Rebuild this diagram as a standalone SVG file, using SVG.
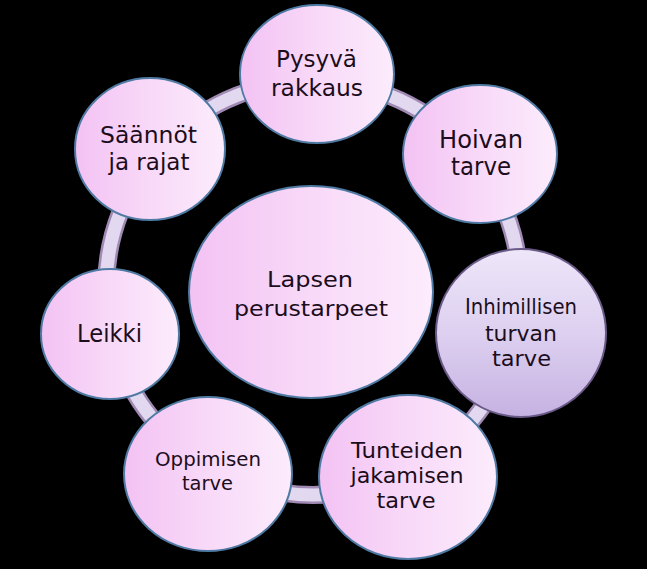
<svg xmlns="http://www.w3.org/2000/svg" width="647" height="569" viewBox="0 0 647 569">
<defs>
<linearGradient id="pink" x1="0" y1="0" x2="1" y2="0">
<stop offset="0" stop-color="#f3c2f3"/>
<stop offset="0.5" stop-color="#f8d9f8"/>
<stop offset="1" stop-color="#fcecfc"/>
</linearGradient>
<linearGradient id="lav" x1="0" y1="0" x2="0" y2="1">
<stop offset="0" stop-color="#eee6f9"/>
<stop offset="0.5" stop-color="#ddd0f0"/>
<stop offset="1" stop-color="#c6b2e2"/>
</linearGradient>
<style>
.n{fill:url(#pink);stroke:#4f7aa3;stroke-width:2}
.h{fill:url(#lav);stroke:#6a5a88;stroke-width:2}
text{font-family:"DejaVu Sans","Liberation Sans",sans-serif;fill:#1c0d1c;text-anchor:middle}
</style>
</defs>
<rect width="647" height="569" fill="#000"/>
<g id="connectors">
<circle cx="313" cy="288" r="207" fill="none" stroke="#a08ab4" stroke-width="18"/>
<circle cx="313" cy="288" r="207" fill="none" stroke="#e2d8f0" stroke-width="13"/>
</g>
<g id="center">
<ellipse class="n" cx="311" cy="292" rx="122" ry="106"/>
<text font-size="21"><tspan x="310" y="287" textLength="86" lengthAdjust="spacingAndGlyphs">Lapsen</tspan><tspan x="311" y="316" textLength="154" lengthAdjust="spacingAndGlyphs">perustarpeet</tspan></text>
</g>
<g id="pysyva">
<ellipse class="n" cx="317" cy="74" rx="77" ry="69"/>
<text font-size="23"><tspan x="316.5" y="67" textLength="81" lengthAdjust="spacingAndGlyphs">Pysyvä</tspan><tspan x="317" y="96" textLength="92" lengthAdjust="spacingAndGlyphs">rakkaus</tspan></text>
</g>
<g id="hoivan">
<ellipse class="n" cx="480" cy="154" rx="77" ry="69"/>
<text font-size="24"><tspan x="481" y="148" textLength="84" lengthAdjust="spacingAndGlyphs">Hoivan</tspan><tspan x="481" y="175" textLength="60" lengthAdjust="spacingAndGlyphs">tarve</tspan></text>
</g>
<g id="inhimillisen">
<ellipse class="h" cx="521" cy="333" rx="85" ry="84"/>
<text font-size="21.5"><tspan x="521" y="314" textLength="112" lengthAdjust="spacingAndGlyphs">Inhimillisen</tspan><tspan x="521" y="341" textLength="72" lengthAdjust="spacingAndGlyphs">turvan</tspan><tspan x="521.5" y="366" textLength="59" lengthAdjust="spacingAndGlyphs">tarve</tspan></text>
</g>
<g id="tunteiden">
<ellipse class="n" cx="408" cy="477" rx="89" ry="82"/>
<text font-size="22"><tspan x="407" y="458" textLength="112" lengthAdjust="spacingAndGlyphs">Tunteiden</tspan><tspan x="407" y="483" textLength="113" lengthAdjust="spacingAndGlyphs">jakamisen</tspan><tspan x="406" y="508" textLength="59" lengthAdjust="spacingAndGlyphs">tarve</tspan></text>
</g>
<g id="oppimisen">
<ellipse class="n" cx="208" cy="474" rx="84" ry="77"/>
<text font-size="19"><tspan x="208" y="466" textLength="106" lengthAdjust="spacingAndGlyphs">Oppimisen</tspan><tspan x="207.5" y="490" textLength="51" lengthAdjust="spacingAndGlyphs">tarve</tspan></text>
</g>
<g id="leikki">
<ellipse class="n" cx="110" cy="334" rx="69" ry="65"/>
<text font-size="24"><tspan x="109.5" y="342" textLength="65" lengthAdjust="spacingAndGlyphs">Leikki</tspan></text>
</g>
<g id="saannot">
<ellipse class="n" cx="150" cy="149" rx="75" ry="71"/>
<text font-size="23"><tspan x="148.5" y="143" textLength="97" lengthAdjust="spacingAndGlyphs">Säännöt</tspan><tspan x="149" y="170" textLength="81" lengthAdjust="spacingAndGlyphs">ja rajat</tspan></text>
</g>
</svg>
